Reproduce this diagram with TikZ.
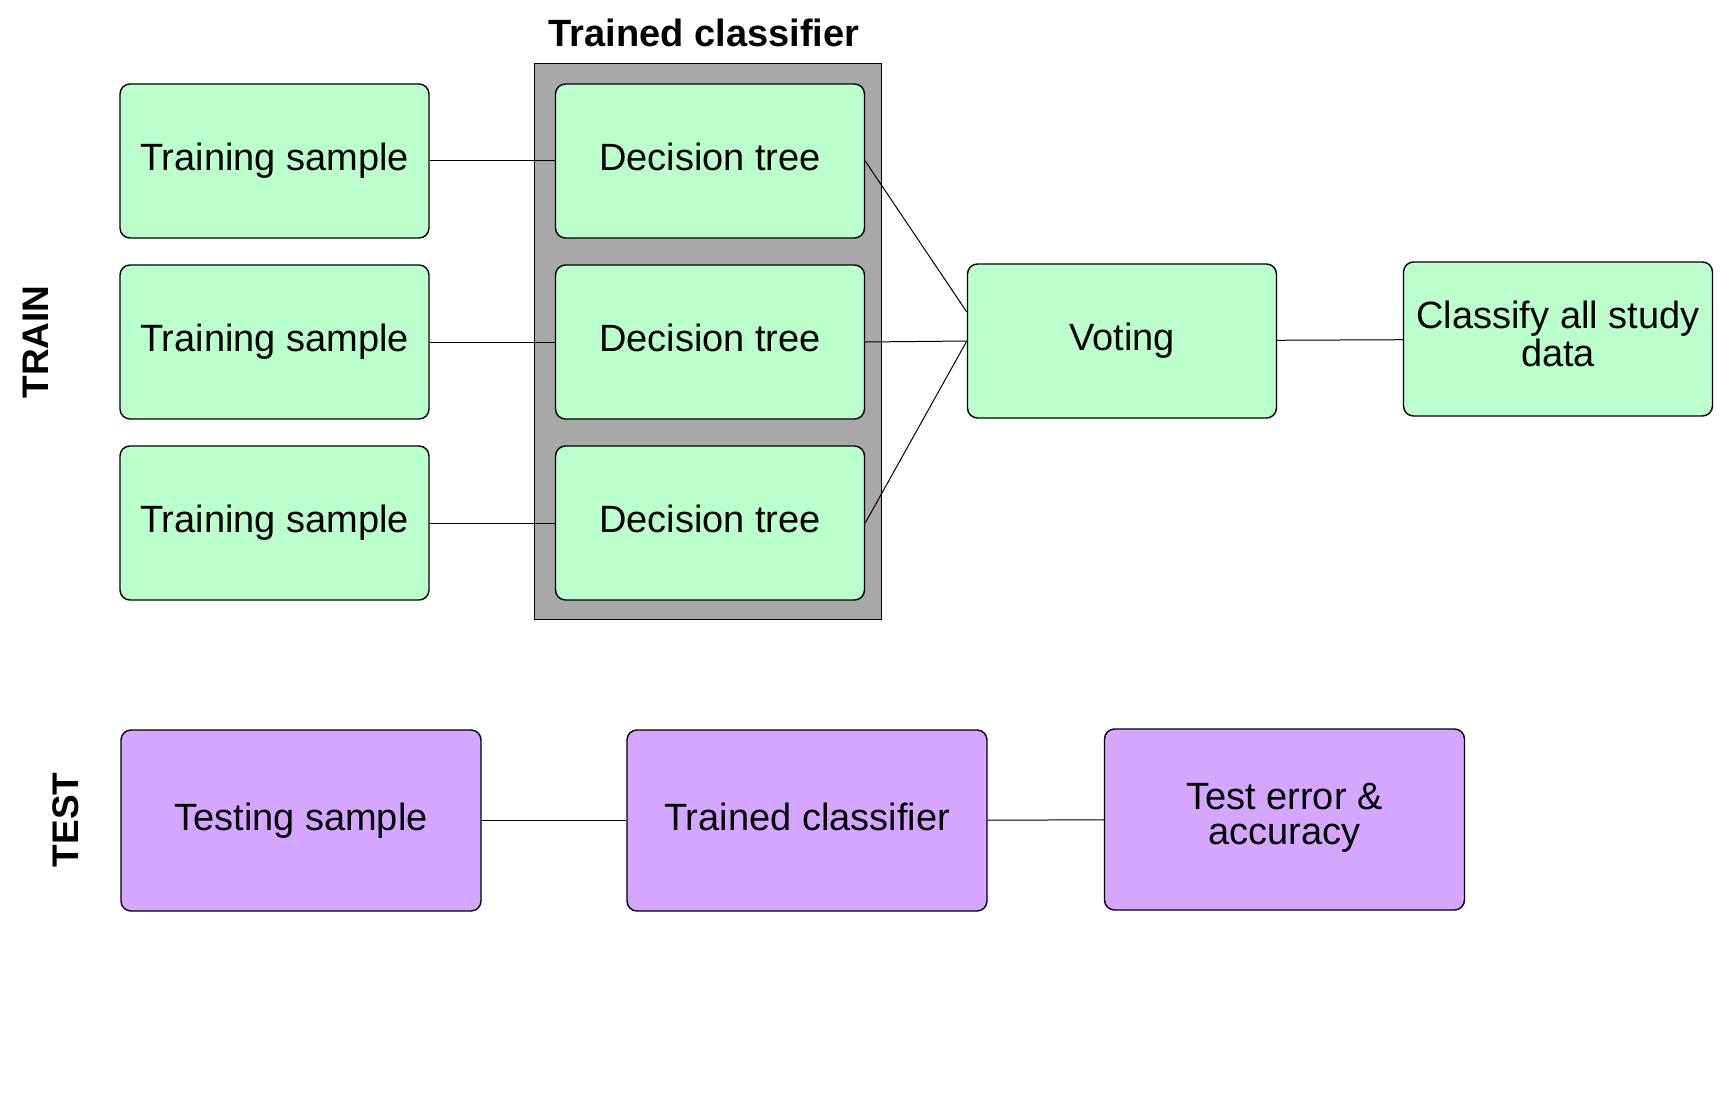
\documentclass[tikz,border=0pt]{standalone}
\usepackage{fontspec}
\setmainfont{Liberation Sans}
\usepackage{tikz}
\usetikzlibrary{positioning}
\usepackage{xcolor}

\definecolor{trainfill}{RGB}{187,255,204}
\definecolor{testfill}{RGB}{212,166,255}
\definecolor{panelgray}{RGB}{168,168,168}

\tikzset{
  box/.style={draw, line width=0.7pt, rounded corners=5pt, align=center,
    font=\fontsize{19}{17.5}\selectfont},
  oneline/.style={text height=13.7pt, text depth=4pt},
  trainbox/.style={box, fill=trainfill, minimum width=154.5pt, minimum height=77pt},
  testbox/.style={box, fill=testfill, minimum width=180pt, minimum height=90.5pt},
  link/.style={line width=0.5pt},
  sidelabel/.style={rotate=90, font=\fontsize{18.5}{18.5}\selectfont\bfseries}
}

\begin{document}
\begin{tikzpicture}[x=0.5pt, y=-0.5pt]

\useasboundingbox (0,0) rectangle (1731,1102);

%panel
\filldraw[fill=panelgray, draw=black, line width=0.5pt] (534,64) rectangle (881,619);
\node (title) at (704,33) {\fontsize{19}{19}\selectfont\bfseries Trained classifier};

%train row
\node[trainbox, oneline] (sample1) at (274.5,161) {Training sample};
\node[trainbox, oneline] (sample2) at (274.5,342) {Training sample};
\node[trainbox, oneline] (sample3) at (274.5,523) {Training sample};

\node[trainbox, oneline] (tree1) at (710,161) {Decision tree};
\node[trainbox, oneline] (tree2) at (710,342) {Decision tree};
\node[trainbox, oneline] (tree3) at (710,523) {Decision tree};

\node[trainbox, oneline] (vote) at (1122,341) {Voting};
\node[trainbox] (classify) at (1558,339) {\raisebox{2.5pt}{\begin{tabular}{@{}c@{}}Classify all study\\data\end{tabular}}};

%test row
\node[testbox, oneline] (testing) at (301,820.5) {Testing sample};
\node[testbox, oneline] (trained) at (807,820.5) {Trained classifier};
\node[testbox] (testerr) at (1284.5,819.5) {\raisebox{2.5pt}{\begin{tabular}{@{}c@{}}Test error \&\\accuracy\end{tabular}}};

%lines
\draw[link] (sample1) -- (tree1);
\draw[link] (sample2) -- (tree2);
\draw[link] (sample3) -- (tree3);
\draw[link] (tree1.east) -- ([yshift=14.5pt]vote.west);
\draw[link] (tree2.east) -- (vote.west);
\draw[link] (tree3.east) -- (vote.west);
\draw[link] (vote) -- (classify);
\draw[link] (testing) -- (trained);
\draw[link] (trained) -- (testerr);

%labels
\node[sidelabel] (train) at (36,342) {TRAIN};
\node[sidelabel] (test) at (66,820) {TEST};

\end{tikzpicture}
\end{document}
